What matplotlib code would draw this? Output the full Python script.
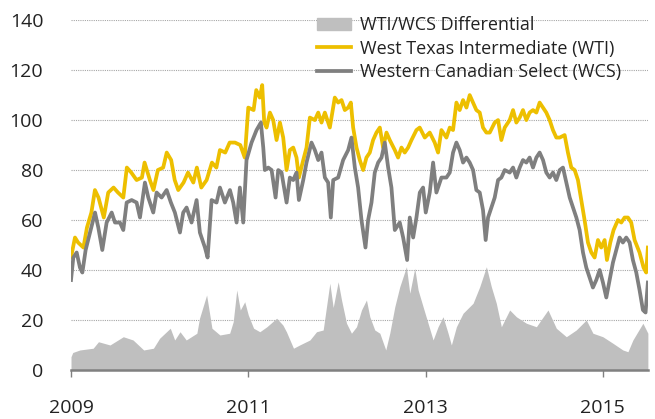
import matplotlib.pyplot as plt
from matplotlib.patches import Patch
from matplotlib.lines import Line2D

plt.rcParams['font.family'] = ['Open Sans', 'DejaVu Sans']

# West Texas Intermediate (time in chart years, USD/bbl)
wti_t = [2009.00, 2009.045, 2009.08, 2009.14, 2009.18, 2009.23, 2009.27, 2009.31, 2009.37, 2009.42,
         2009.48, 2009.53, 2009.59, 2009.63, 2009.68, 2009.74, 2009.80, 2009.83, 2009.89, 2009.93,
         2009.98, 2010.04, 2010.08, 2010.13, 2010.17, 2010.21, 2010.27, 2010.32, 2010.38, 2010.42,
         2010.47, 2010.53, 2010.59, 2010.64, 2010.68, 2010.74, 2010.79, 2010.85, 2010.91, 2010.96,
         2011.00, 2011.06, 2011.09, 2011.13, 2011.157, 2011.18, 2011.206, 2011.244, 2011.281, 2011.319,
         2011.357, 2011.394, 2011.432, 2011.469, 2011.507, 2011.544, 2011.571, 2011.62, 2011.657, 2011.695,
         2011.751, 2011.789, 2011.826, 2011.864, 2011.92, 2011.976, 2012.014, 2012.052, 2012.089, 2012.127,
         2012.157, 2012.183, 2012.221, 2012.258, 2012.296, 2012.333, 2012.371, 2012.408, 2012.446, 2012.484,
         2012.521, 2012.559, 2012.596, 2012.653, 2012.69, 2012.728, 2012.765, 2012.803, 2012.841, 2012.897,
         2012.934, 2012.991, 2013.047, 2013.103, 2013.141, 2013.179, 2013.235, 2013.273, 2013.31, 2013.348,
         2013.385, 2013.423, 2013.461, 2013.498, 2013.536, 2013.573, 2013.611, 2013.648, 2013.686, 2013.724,
         2013.78, 2013.818, 2013.855, 2013.893, 2013.949, 2013.987, 2014.024, 2014.062, 2014.099, 2014.137,
         2014.174, 2014.212, 2014.25, 2014.287, 2014.325, 2014.362, 2014.40, 2014.437, 2014.475, 2014.513,
         2014.569, 2014.606, 2014.644, 2014.682, 2014.719, 2014.757, 2014.794, 2014.832, 2014.87, 2014.907,
         2014.945, 2014.982, 2015.02, 2015.046, 2015.084, 2015.121, 2015.17, 2015.208, 2015.245, 2015.283,
         2015.32, 2015.358, 2015.414, 2015.459, 2015.489, 2015.508]
wti_v = [45, 53, 51, 49, 57, 63, 72, 69, 61, 71,
         73, 71, 69, 81, 79, 76, 77, 83, 76, 72,
         80, 81, 87, 84, 76, 72, 75, 79, 75, 81,
         73, 76, 83, 81, 88, 87, 91, 91, 90, 85,
         105, 104, 112, 109, 114, 99, 97, 103, 100, 92,
         99, 93, 80, 88, 89, 85, 77, 84, 89, 101,
         100, 103, 99, 103, 97, 109, 107, 108, 104, 105,
         107, 97, 89, 84, 80, 85, 87, 92, 95, 97,
         89, 95, 92, 88, 85, 89, 87, 89, 92, 96,
         97, 93, 95, 91, 87, 96, 93, 97, 96, 107,
         104, 108, 105, 110, 107, 104, 103, 97, 95, 95,
         99, 100, 92, 97, 100, 104, 99, 101, 104, 100,
         103, 104, 103, 107, 105, 103, 100, 96, 93, 93,
         94, 87, 81, 80, 76, 68, 60, 51, 47, 45,
         52, 49, 52, 44, 51, 56, 60, 59, 61, 61,
         59, 52, 47, 41, 39, 49]

# Western Canadian Select
wcs_t = [2009.00, 2009.026, 2009.064, 2009.101, 2009.128, 2009.165, 2009.214, 2009.271, 2009.308, 2009.353,
         2009.402, 2009.459, 2009.496, 2009.552, 2009.59, 2009.628, 2009.684, 2009.74, 2009.778, 2009.834,
         2009.872, 2009.928, 2009.966, 2010.022, 2010.079, 2010.127, 2010.172, 2010.229, 2010.266, 2010.304,
         2010.36, 2010.417, 2010.454, 2010.511, 2010.541, 2010.586, 2010.642, 2010.68, 2010.736, 2010.793,
         2010.83, 2010.868, 2010.905, 2010.943, 2010.98, 2011.037, 2011.093, 2011.142, 2011.169, 2011.187,
         2011.225, 2011.263, 2011.308, 2011.338, 2011.375, 2011.432, 2011.469, 2011.507, 2011.544, 2011.571,
         2011.62, 2011.657, 2011.713, 2011.751, 2011.789, 2011.826, 2011.864, 2011.901, 2011.931, 2011.958,
         2012.014, 2012.07, 2012.127, 2012.164, 2012.202, 2012.239, 2012.277, 2012.322, 2012.352, 2012.39,
         2012.427, 2012.465, 2012.503, 2012.54, 2012.578, 2012.615, 2012.653, 2012.709, 2012.747, 2012.792,
         2012.822, 2012.86, 2012.897, 2012.935, 2012.972, 2013.002, 2013.047, 2013.085, 2013.122, 2013.179,
         2013.235, 2013.273, 2013.31, 2013.348, 2013.385, 2013.423, 2013.461, 2013.498, 2013.536, 2013.573,
         2013.611, 2013.648, 2013.678, 2013.705, 2013.742, 2013.78, 2013.818, 2013.855, 2013.893, 2013.949,
         2013.987, 2014.024, 2014.062, 2014.099, 2014.137, 2014.174, 2014.212, 2014.25, 2014.287, 2014.325,
         2014.362, 2014.40, 2014.437, 2014.475, 2014.513, 2014.55, 2014.588, 2014.626, 2014.663, 2014.701,
         2014.738, 2014.776, 2014.813, 2014.851, 2014.888, 2014.926, 2014.964, 2015.001, 2015.039, 2015.076,
         2015.114, 2015.151, 2015.189, 2015.226, 2015.264, 2015.302, 2015.339, 2015.377, 2015.414, 2015.452,
         2015.482, 2015.508]
wcs_v = [36, 45, 47, 41, 39, 48, 55, 63, 57, 48,
         59, 63, 59, 59, 56, 67, 68, 67, 61, 75,
         69, 63, 71, 69, 72, 67, 63, 55, 63, 65,
         59, 68, 55, 49, 45, 68, 67, 73, 67, 72,
         67, 59, 73, 59, 84, 91, 96, 99, 89, 80,
         81, 80, 69, 80, 79, 67, 77, 76, 79, 68,
         76, 83, 91, 88, 84, 87, 77, 75, 61, 76,
         77, 84, 88, 93, 81, 73, 60, 49, 60, 67,
         79, 83, 85, 91, 81, 73, 56, 59, 53, 44,
         61, 53, 61, 71, 73, 63, 71, 83, 71, 77,
         77, 79, 87, 91, 88, 83, 85, 83, 80, 72,
         71, 64, 52, 61, 65, 69, 76, 77, 80, 79,
         81, 77, 81, 84, 83, 85, 81, 85, 87, 84,
         79, 77, 79, 76, 80, 81, 75, 69, 65, 61,
         56, 47, 41, 37, 33, 36, 40, 35, 29, 36,
         43, 48, 53, 51, 53, 51, 44, 39, 32, 24,
         23, 35]

# WTI/WCS differential
diff_t = [2009.00, 2009.02, 2009.10, 2009.25, 2009.31, 2009.44, 2009.59, 2009.70, 2009.82, 2009.93,
          2010.00, 2010.12, 2010.17, 2010.23, 2010.30, 2010.42, 2010.45, 2010.53, 2010.59, 2010.68,
          2010.79, 2010.83, 2010.87, 2010.91, 2010.96, 2011.00, 2011.06, 2011.13, 2011.21, 2011.32,
          2011.39, 2011.43, 2011.51, 2011.58, 2011.695, 2011.77, 2011.845, 2011.92, 2011.958, 2012.014,
          2012.052, 2012.108, 2012.164, 2012.221, 2012.277, 2012.333, 2012.371, 2012.427, 2012.484, 2012.551,
          2012.596, 2012.653, 2012.709, 2012.784, 2012.822, 2012.878, 2012.916, 2012.972, 2013.028, 2013.085,
          2013.141, 2013.197, 2013.254, 2013.291, 2013.348, 2013.423, 2013.536, 2013.611, 2013.686, 2013.742,
          2013.798, 2013.855, 2013.949, 2014.024, 2014.137, 2014.25, 2014.381, 2014.475, 2014.588, 2014.70,
          2014.813, 2014.888, 2015.0, 2015.113, 2015.226, 2015.283, 2015.339, 2015.452, 2015.508]
diff_v = [5.3, 7, 8, 8.7, 11.3, 10, 13.3, 12, 8, 8.7,
          12.7, 16.7, 12, 15.3, 12, 14.7, 20.7, 30, 16.7, 14,
          14.7, 19.3, 32, 24, 27.3, 22, 16.7, 15.3, 17.3, 20.7,
          18, 15.3, 8.7, 10, 12, 15.3, 16, 34.7, 25, 35.3,
          28, 18.7, 14.7, 17.3, 24, 28, 21.3, 16, 14.7, 8,
          14.7, 25.3, 33.3, 41.3, 30.7, 40.7, 32, 25.3, 18.7, 12,
          17.3, 21.3, 14.7, 10, 17.3, 22.7, 26.7, 33.3, 41.3, 33.3,
          26.7, 17.3, 24, 21.3, 18.7, 17.3, 24, 16.7, 13.3, 16,
          20, 14.7, 13.3, 10.7, 8, 7.3, 12, 18.7, 14.7]

year_ticks = [2009, 2011, 2013, 2015]
y_ticks = [0, 20, 40, 60, 80, 100, 120, 140]

yellow = '#EDBF00'
grey = '#7F7F7F'
fill_grey = '#BFBFBF'

fig = plt.figure(figsize=(6.55, 4.19), dpi=100)
ax = fig.add_axes([0.1084, 0.117, 0.881, 0.835])

for v in y_ticks[1:]:
    ax.axhline(v, color='#A6A6A6', linestyle=(0, (1, 1)), linewidth=0.8, zorder=0)

ax.fill_between(diff_t, diff_v, 0, color=fill_grey, linewidth=0, zorder=1)
ax.plot(wti_t, wti_v, color=yellow, linewidth=2.7, zorder=2)
ax.plot(wcs_t, wcs_v, color=grey, linewidth=2.7, zorder=3)

ax.set_xlim(2009.0, 2015.51)
ax.set_ylim(0, 140)
ax.set_yticks(y_ticks)
ax.set_xticks(year_ticks)
ax.set_xticklabels([str(y) for y in year_ticks])

for s in ['top', 'right', 'left']:
    ax.spines[s].set_visible(False)
ax.spines['bottom'].set_color('#808080')
ax.spines['bottom'].set_linewidth(1.8)
ax.spines['bottom'].set_zorder(4)

ax.tick_params(axis='y', length=0, pad=20, labelsize=14, labelcolor='#222222')
ax.tick_params(axis='x', length=5, width=1, color='#808080', direction='out',
               pad=16, labelsize=14, labelcolor='#222222')

handles = [Patch(color=fill_grey),
           Line2D([], [], color=yellow, linewidth=2.7),
           Line2D([], [], color=grey, linewidth=2.7)]
labels = ['WTI/WCS Differential', 'West Texas Intermediate (WTI)', 'Western Canadian Select (WCS)']
fig.legend(handles, labels, loc='upper left', bbox_to_anchor=(0.459, 1.0), frameon=False,
           fontsize=13, handlelength=1.9, handleheight=0.7, handletextpad=0.5,
           labelspacing=0.3, labelcolor='#222222')

fig.savefig('out.png', dpi=100)
